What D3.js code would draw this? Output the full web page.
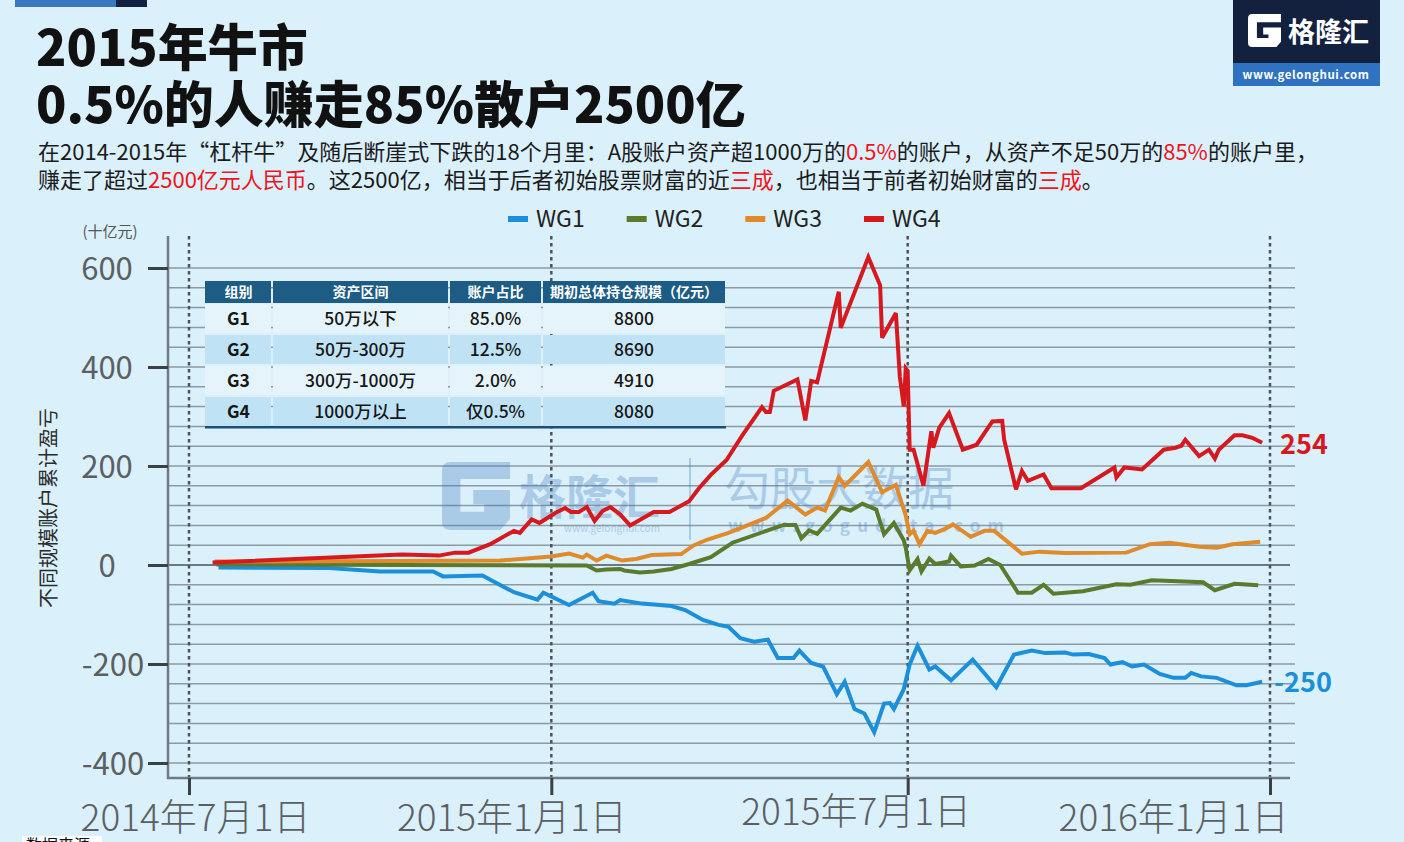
<!DOCTYPE html>
<html lang="zh-CN">
<head>
<meta charset="UTF-8">
<title>2015年牛市 0.5%的人赚走85%散户2500亿</title>
<script src="https://cdn.jsdelivr.net/npm/d3@7"></script>
<style>
  body { margin: 0; background: #daf0fb; }
  svg { display: block; }
  text { font-family: "Noto Sans CJK SC", "Noto Sans", sans-serif; }
</style>
</head>
<body>
<div id="chart"></div>
<script>
// ---- data (unit: 十亿元) ----
const seriesNames = ["WG1", "WG2", "WG3", "WG4"];
const seriesColors = ["#1b8fd9", "#5b7a2c", "#e08a2b", "#d8181f"];

const wg1 = [
  ["2014-07-16", -5], ["2014-09-10", -6], ["2014-10-06", -13], ["2014-11-02", -13],
  ["2014-11-07", -23], ["2014-11-27", -21], ["2014-12-13", -55], ["2014-12-25", -70],
  ["2014-12-28", -56], ["2015-01-10", -81], ["2015-01-22", -56], ["2015-01-25", -73],
  ["2015-02-02", -78], ["2015-02-05", -71], ["2015-02-16", -78], ["2015-03-03", -83],
  ["2015-03-10", -91], ["2015-03-19", -111], ["2015-03-27", -121], ["2015-04-01", -125],
  ["2015-04-07", -148], ["2015-04-14", -155], ["2015-04-21", -151], ["2015-04-26", -188],
  ["2015-05-04", -188], ["2015-05-07", -173], ["2015-05-13", -198], ["2015-05-19", -205],
  ["2015-05-26", -261], ["2015-05-30", -236], ["2015-06-04", -291], ["2015-06-09", -300],
  ["2015-06-14", -338], ["2015-06-19", -280], ["2015-06-22", -279], ["2015-06-24", -291],
  ["2015-06-29", -251], ["2015-07-02", -201], ["2015-07-06", -163], ["2015-07-12", -211],
  ["2015-07-15", -205], ["2015-07-23", -233], ["2015-08-03", -191], ["2015-08-15", -247],
  ["2015-08-24", -181], ["2015-09-02", -173], ["2015-09-09", -178], ["2015-09-19", -177],
  ["2015-09-23", -181], ["2015-10-01", -180], ["2015-10-09", -188], ["2015-10-12", -201],
  ["2015-10-18", -196], ["2015-10-23", -205], ["2015-10-29", -201], ["2015-11-06", -220],
  ["2015-11-13", -228], ["2015-11-19", -228], ["2015-11-22", -218], ["2015-11-27", -225],
  ["2015-12-05", -228], ["2015-12-15", -243], ["2015-12-20", -243], ["2015-12-28", -236]
];

const wg2 = [
  ["2014-07-15", 1], ["2014-10-16", 0], ["2015-01-19", -1], ["2015-01-24", -11],
  ["2015-01-29", -9], ["2015-02-05", -8], ["2015-02-07", -11], ["2015-02-15", -15],
  ["2015-02-22", -13], ["2015-03-03", -8], ["2015-03-12", 2], ["2015-03-23", 16],
  ["2015-04-03", 45], ["2015-04-29", 81], ["2015-05-05", 81], ["2015-05-08", 54],
  ["2015-05-12", 70], ["2015-05-16", 63], ["2015-05-28", 116], ["2015-06-02", 110],
  ["2015-06-08", 124], ["2015-06-15", 112], ["2015-06-19", 62], ["2015-06-24", 85],
  ["2015-06-29", 50], ["2015-06-30", 35], ["2015-07-02", -11], ["2015-07-06", 12],
  ["2015-07-08", -13], ["2015-07-12", 13], ["2015-07-15", 2], ["2015-07-22", 7],
  ["2015-07-23", 19], ["2015-07-28", -3], ["2015-08-04", -1], ["2015-08-11", 12],
  ["2015-08-17", 0], ["2015-08-26", -56], ["2015-09-02", -56], ["2015-09-08", -40],
  ["2015-09-13", -58], ["2015-09-28", -53], ["2015-10-15", -39], ["2015-10-22", -40],
  ["2015-11-02", -31], ["2015-11-15", -33], ["2015-11-28", -35], ["2015-12-04", -51],
  ["2015-12-14", -38], ["2015-12-26", -41]
];

const wg3 = [
  ["2014-07-14", 7], ["2014-10-16", 8], ["2014-12-06", 9], ["2015-01-01", 17],
  ["2015-01-10", 23], ["2015-01-17", 15], ["2015-01-19", 21], ["2015-01-24", 9],
  ["2015-01-29", 19], ["2015-02-06", 9], ["2015-02-13", 12], ["2015-02-21", 20],
  ["2015-03-08", 22], ["2015-03-14", 39], ["2015-03-21", 51], ["2015-04-01", 65],
  ["2015-04-20", 95], ["2015-05-01", 130], ["2015-05-10", 102], ["2015-05-16", 116],
  ["2015-05-20", 110], ["2015-05-27", 178], ["2015-05-30", 160], ["2015-06-11", 208],
  ["2015-06-18", 147], ["2015-06-25", 162], ["2015-06-30", 100], ["2015-07-02", 62],
  ["2015-07-04", 69], ["2015-07-07", 42], ["2015-07-11", 69], ["2015-07-15", 65],
  ["2015-07-20", 73], ["2015-07-24", 82], ["2015-08-02", 57], ["2015-08-09", 69],
  ["2015-08-14", 69], ["2015-08-28", 23], ["2015-09-06", 27], ["2015-09-19", 24],
  ["2015-10-20", 25], ["2015-11-01", 42], ["2015-11-11", 45], ["2015-11-26", 37],
  ["2015-12-05", 35], ["2015-12-13", 42], ["2015-12-27", 47]
];

const wg4 = [
  ["2014-07-13", 5], ["2014-10-17", 21], ["2014-11-05", 19], ["2014-11-13", 25],
  ["2014-11-20", 25], ["2014-12-01", 42], ["2014-12-13", 69], ["2014-12-16", 65],
  ["2014-12-22", 92], ["2014-12-26", 85], ["2015-01-03", 105], ["2015-01-08", 115],
  ["2015-01-11", 107], ["2015-01-15", 107], ["2015-01-19", 117], ["2015-01-23", 89],
  ["2015-01-27", 109], ["2015-01-31", 117], ["2015-02-05", 102], ["2015-02-10", 80],
  ["2015-02-22", 107], ["2015-03-02", 107], ["2015-03-12", 129], ["2015-03-17", 155],
  ["2015-03-23", 182], ["2015-03-31", 212], ["2015-04-08", 262], ["2015-04-18", 319],
  ["2015-04-20", 309], ["2015-04-22", 309], ["2015-04-24", 352], ["2015-05-06", 375],
  ["2015-05-10", 292], ["2015-05-13", 372], ["2015-05-16", 369], ["2015-05-27", 552],
  ["2015-05-28", 479], ["2015-06-11", 622], ["2015-06-17", 565], ["2015-06-18", 459],
  ["2015-06-25", 509], ["2015-06-27", 380], ["2015-06-29", 320], ["2015-06-30", 397],
  ["2015-07-01", 392], ["2015-07-02", 233], ["2015-07-04", 233], ["2015-07-09", 160],
  ["2015-07-13", 270], ["2015-07-14", 237], ["2015-07-17", 277], ["2015-07-22", 307],
  ["2015-07-29", 233], ["2015-08-05", 243], ["2015-08-13", 290], ["2015-08-18", 291],
  ["2015-08-19", 253], ["2015-08-25", 153], ["2015-08-28", 190], ["2015-08-31", 170],
  ["2015-09-08", 183], ["2015-09-12", 155], ["2015-09-27", 155], ["2015-10-14", 197],
  ["2015-10-15", 177], ["2015-10-19", 197], ["2015-10-28", 193], ["2015-11-08", 233],
  ["2015-11-14", 237], ["2015-11-17", 241], ["2015-11-19", 253], ["2015-11-26", 220],
  ["2015-12-01", 233], ["2015-12-04", 215], ["2015-12-06", 233], ["2015-12-14", 262],
  ["2015-12-18", 262], ["2015-12-23", 257], ["2015-12-28", 247]
];

const endLabels = [["WG1", "-250"], ["WG4", "254"]];

const yTicks = [-400, -200, 0, 200, 400, 600];
const xTicks = ["2014-07-01", "2015-01-01", "2015-07-01", "2016-01-01"];

const tableHeader = ["组别", "资产区间", "账户占比", "期初总体持仓规模（亿元）"];
const tableRows = [
  ["G1", "50万以下", "85.0%", "8800"],
  ["G2", "50万-300万", "12.5%", "8690"],
  ["G3", "300万-1000万", "2.0%", "4910"],
  ["G4", "1000万以上", "仅0.5%", "8080"]
];

// ---- drawing ----
const W = 1404, H = 842;
const parse = d3.timeParse("%Y-%m-%d");
const numFont = "'Liberation Sans', Arial, sans-serif";

const svg = d3.select("#chart").append("svg")
    .attr("width", W)
    .attr("height", H);

svg.append("rect").attr("width", W).attr("height", H).attr("fill", "#daf0fb");

// top-left accent bar
svg.append("rect").attr("x", 15).attr("y", 0).attr("width", 101).attr("height", 7).attr("fill", "#3a78c2");
svg.append("rect").attr("x", 116).attr("y", 0).attr("width", 31).attr("height", 7).attr("fill", "#12213f");

// G mark used by the logo and the watermark
function gMark(g, x0, y0, s, fill) {
  g.append("path")
    .attr("transform", `translate(${x0},${y0}) scale(${s})`)
    .attr("fill", fill)
    .attr("d", "M0.13,0 H1 V0.25 H0.27 V0.73 H0.62 V0.62 H0.46 V0.41 H1 V0.84 L0.86,1 H0.13 Q0,1 0,0.87 V0.13 Q0,0 0.13,0 Z");
}

// title
svg.append("text").attr("x", 36).attr("y", 66)
    .attr("font-size", 50).attr("font-weight", 900).attr("fill", "#111")
    .text("2015年牛市");
svg.append("text").attr("x", 36).attr("y", 123)
    .attr("font-size", 50).attr("font-weight", 900).attr("fill", "#111")
    .text("0.5%的人赚走85%散户2500亿");

// subtitle with red highlights
const sub1 = [["在2014-2015年“杠杆牛”及随后断崖式下跌的18个月里：A股账户资产超1000万的", 0], ["0.5%", 1],
  ["的账户，从资产不足50万的", 0], ["85%", 1], ["的账户里，", 0]];
const sub2 = [["赚走了超过", 0], ["2500亿元人民币", 1], ["。这2500亿，相当于后者初始股票财富的近", 0], ["三成", 1],
  ["，也相当于前者初始财富的", 0], ["三成", 1], ["。", 0]];
[[sub1, 160], [sub2, 188]].forEach(([parts, yy]) => {
  const t = svg.append("text").attr("x", 38).attr("y", yy).attr("font-size", 22).attr("fill", "#1b1b1b");
  parts.forEach(p => t.append("tspan").attr("fill", p[1] ? "#f0141c" : "#1b1b1b").text(p[0]));
});

// logo top right
const logo = svg.append("g");
logo.append("rect").attr("x", 1233).attr("y", 0).attr("width", 147).attr("height", 63).attr("fill", "#13213f");
logo.append("rect").attr("x", 1233).attr("y", 63).attr("width", 147).attr("height", 23).attr("fill", "#2f72bf");
gMark(logo, 1248, 14, 33, "#ffffff");
logo.append("text").attr("x", 1288).attr("y", 42).attr("font-size", 27).attr("font-weight", 700)
    .attr("fill", "#fff").text("格隆汇");
logo.append("text").attr("x", 1306).attr("y", 79).attr("text-anchor", "middle")
    .attr("font-size", 11.5).attr("font-weight", 700).attr("letter-spacing", 0.6)
    .attr("font-family", "'DejaVu Sans', sans-serif").attr("fill", "#fff").text("www.gelonghui.com");

// scales
const x = d3.scaleTime()
    .domain([parse(xTicks[0]), parse(xTicks[xTicks.length - 1])])
    .range([189, 1270]);
const y = d3.scaleLinear().domain([-400, 600]).range([763, 268]);

// horizontal grid
svg.append("g").selectAll("line")
  .data(d3.range(-400, 601, 40))
  .join("line")
    .attr("x1", 168).attr("x2", d => d === 0 ? 1290 : 1295)
    .attr("y1", d => y(d)).attr("y2", d => y(d))
    .attr("stroke", d => d === 0 ? "#6c7880" : "#8c9aa4")
    .attr("stroke-width", d => d === 0 ? 1.8 : 1.5);

// dotted date lines
svg.append("g").selectAll("line")
  .data(xTicks)
  .join("line")
    .attr("x1", d => x(parse(d))).attr("x2", d => x(parse(d)))
    .attr("y1", 236).attr("y2", 778)
    .attr("stroke", "#4d5358").attr("stroke-width", 2.5)
    .attr("stroke-dasharray", "3.5,3.5");

// watermark
const wm = svg.append("g").attr("opacity", 0.3).attr("fill", "#3f78bb");
gMark(wm, 442, 462, 68, "#3f78bb");
wm.append("text").attr("x", 519).attr("y", 514).attr("font-size", 47).attr("font-weight", 700).text("格隆汇");
wm.append("text").attr("x", 612).attr("y", 532).attr("text-anchor", "middle")
    .attr("font-size", 10).attr("font-family", numFont).text("www.gelonghui.com");
wm.append("rect").attr("x", 689).attr("y", 458).attr("width", 2).attr("height", 82);
wm.append("text").attr("x", 724).attr("y", 505).attr("font-size", 46).text("勾股大数据");
wm.append("text").attr("x", 728).attr("y", 532).attr("font-size", 17).attr("font-weight", 700)
    .attr("letter-spacing", 7.2).attr("font-family", numFont).text("www.gogudata.com");

// info table
const colEdges = [205, 272, 449, 542, 726];
const tbl = svg.append("g");
const headH = 22, rowH = 31, tTop = 281;
tableHeader.forEach((h, i) => {
  tbl.append("rect").attr("x", colEdges[i] + (i ? 1 : 0)).attr("y", tTop)
      .attr("width", colEdges[i + 1] - colEdges[i] - (i ? 1 : 0) - 1).attr("height", headH)
      .attr("fill", "#1d5c84");
  tbl.append("text").attr("x", (colEdges[i] + colEdges[i + 1]) / 2).attr("y", tTop + 16)
      .attr("text-anchor", "middle").attr("font-size", 14).attr("font-weight", 700)
      .attr("fill", "#fff").text(h);
});
tableRows.forEach((row, r) => {
  const ry = tTop + headH + 1 + r * rowH;
  row.forEach((c, i) => {
    tbl.append("rect").attr("x", colEdges[i] + (i ? 1 : 0)).attr("y", ry)
        .attr("width", colEdges[i + 1] - colEdges[i] - (i ? 1 : 0) - 1).attr("height", rowH - 2)
        .attr("fill", r % 2 ? "#bfe3f4" : "#e5f4fa");
    tbl.append("text").attr("x", (colEdges[i] + colEdges[i + 1]) / 2).attr("y", ry + 21)
        .attr("text-anchor", "middle").attr("font-size", 17.5)
        .attr("font-weight", i === 0 ? 700 : 500).attr("fill", "#161616").text(c);
  });
});
tbl.append("rect").attr("x", 205).attr("y", tTop + headH + 1 + 4 * rowH - 2)
    .attr("width", 521).attr("height", 2.5).attr("fill", "#1d4f72");

// series lines
const line = d3.line()
    .x(d => x(parse(d[0])))
    .y(d => y(d[1]));
const allSeries = [wg1, wg2, wg3, wg4];
allSeries.forEach((s, i) => {
  svg.append("path")
      .datum(s)
      .attr("fill", "none")
      .attr("stroke", seriesColors[i])
      .attr("stroke-width", 4)
      .attr("stroke-linejoin", "miter")
      .attr("stroke-miterlimit", 3)
      .attr("d", line);
});

// y axis
svg.append("line").attr("x1", 168).attr("x2", 168).attr("y1", 236).attr("y2", 779)
    .attr("stroke", "#6f7b83").attr("stroke-width", 2.5);
svg.append("g")
    .attr("transform", "translate(168,0)")
    .call(d3.axisLeft(y).tickValues(yTicks).tickSize(20).tickFormat(d => d))
    .call(g => g.select(".domain").remove())
    .call(g => g.selectAll(".tick line").attr("stroke", "#3b4045").attr("stroke-width", 3))
    .call(g => g.selectAll(".tick text")
        .attr("x", d => d < 0 ? -55 : -61)
        .attr("text-anchor", "middle")
        .attr("dy", "0.36em")
        .attr("font-size", 31)
        .attr("font-family", numFont)
        .attr("fill", "#5c5f62"));

svg.append("text").attr("x", 110).attr("y", 237).attr("text-anchor", "middle")
    .attr("font-size", 15).attr("fill", "#555").text("(十亿元)");
svg.append("text").attr("transform", "translate(56,508) rotate(-90)")
    .attr("text-anchor", "middle").attr("font-size", 20).attr("fill", "#2b2b2b")
    .text("不同规模账户累计盈亏");

// x axis (labels in the original sit left of their ticks, drifting further left)
const labelShift = [6, -40, -52, -97];
const labelLift = [0, 0, -6, 0];
svg.append("line").attr("x1", 167).attr("x2", 1290).attr("y1", 778).attr("y2", 778)
    .attr("stroke", "#6f7b83").attr("stroke-width", 2.5);
svg.append("g")
    .attr("transform", "translate(0,778)")
    .call(d3.axisBottom(x).tickValues(xTicks.map(parse)).tickSize(17)
        .tickFormat(d3.timeFormat("%Y年%-m月%-d日")))
    .call(g => g.select(".domain").remove())
    .call(g => g.selectAll(".tick line").attr("stroke", "#3b4045").attr("stroke-width", 3))
    .call(g => g.selectAll(".tick text")
        .attr("x", (d, i) => labelShift[i])
        .attr("y", (d, i) => 27 + labelLift[i])
        .attr("font-size", 37)
        .attr("font-family", "'Noto Sans CJK SC', sans-serif")
        .attr("font-weight", 300)
        .attr("fill", "#5c5f62"));

// legend
let lx = 508;
seriesNames.forEach((n, i) => {
  svg.append("rect").attr("x", lx).attr("y", 216).attr("width", 20).attr("height", 6)
      .attr("fill", seriesColors[i]);
  const t = svg.append("text").attr("x", lx + 28).attr("y", 227)
      .attr("font-size", 23).attr("font-family", numFont).attr("fill", "#222").text(n);
  lx += 28 + t.node().getComputedTextLength() + 42;
});

// end labels
endLabels.forEach(([name, label]) => {
  const i = seriesNames.indexOf(name);
  const s = allSeries[i];
  const last = s[s.length - 1];
  svg.append("text")
      .attr("x", x(parse(last[0])) + (last[1] < 0 ? 12 : 18))
      .attr("y", y(last[1]) + (last[1] < 0 ? 1 : 2))
      .attr("dy", "0.35em")
      .attr("font-size", 27).attr("font-weight", 700)
      .attr("font-family", "'Noto Sans CJK SC', sans-serif")
      .attr("fill", seriesColors[i]).text(label);
});

// source tag, cut off at the bottom edge as in the original
svg.append("rect").attr("x", 22).attr("y", 836).attr("width", 80).attr("height", 14).attr("fill", "#fff");
svg.append("text").attr("x", 26).attr("y", 851).attr("font-size", 16).attr("fill", "#111").text("数据来源");
</script>
</body>
</html>
